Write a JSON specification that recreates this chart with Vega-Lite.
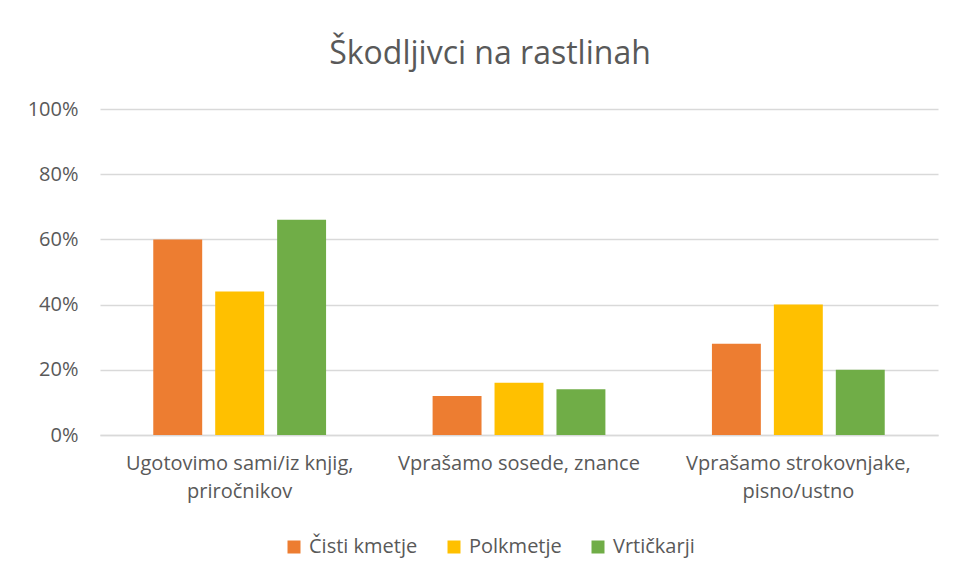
{
  "$schema": "https://vega.github.io/schema/vega-lite/v6.json",
  "autosize": {"type": "none"},
  "width": 838,
  "height": 326,
  "padding": {"left": 100, "top": 109, "right": 19, "bottom": 146},
  "background": "white",
  "title": {
    "text": "Škodljivci na rastlinah",
    "font": "Open Sans",
    "fontSize": 32,
    "fontWeight": "normal",
    "color": "#595959",
    "anchor": "middle",
    "baseline": "alphabetic",
    "offset": 3,
    "dx": -29
  },
  "data": {
    "values": [
      {"kategorija": "Ugotovimo sami/iz knjig, priročnikov", "skupina": "Čisti kmetje", "delez": 0.60},
      {"kategorija": "Ugotovimo sami/iz knjig, priročnikov", "skupina": "Polkmetje", "delez": 0.44},
      {"kategorija": "Ugotovimo sami/iz knjig, priročnikov", "skupina": "Vrtičkarji", "delez": 0.66},
      {"kategorija": "Vprašamo sosede, znance", "skupina": "Čisti kmetje", "delez": 0.12},
      {"kategorija": "Vprašamo sosede, znance", "skupina": "Polkmetje", "delez": 0.16},
      {"kategorija": "Vprašamo sosede, znance", "skupina": "Vrtičkarji", "delez": 0.14},
      {"kategorija": "Vprašamo strokovnjake, pisno/ustno", "skupina": "Čisti kmetje", "delez": 0.28},
      {"kategorija": "Vprašamo strokovnjake, pisno/ustno", "skupina": "Polkmetje", "delez": 0.40},
      {"kategorija": "Vprašamo strokovnjake, pisno/ustno", "skupina": "Vrtičkarji", "delez": 0.20}
    ]
  },
  "mark": {"type": "bar"},
  "encoding": {
    "x": {
      "field": "kategorija",
      "type": "nominal",
      "sort": null,
      "title": null,
      "scale": {"paddingInner": 0, "paddingOuter": 0},
      "axis": {
        "labelAngle": 0,
        "labelFont": "Open Sans",
        "labelFontSize": 20,
        "labelColor": "#595959",
        "labelLineHeight": 28,
        "labelPadding": 18,
        "labelLimit": 0,
        "ticks": false,
        "domainColor": "#d9d9d9",
        "domainWidth": 1.3,
        "labelExpr": "datum.label == 'Ugotovimo sami/iz knjig, priročnikov' ? ['Ugotovimo sami/iz knjig,', 'priročnikov'] : datum.label == 'Vprašamo strokovnjake, pisno/ustno' ? ['Vprašamo strokovnjake,', 'pisno/ustno'] : datum.label"
      }
    },
    "xOffset": {
      "field": "skupina",
      "type": "nominal",
      "sort": ["Čisti kmetje", "Polkmetje", "Vrtičkarji"],
      "scale": {"paddingInner": 0.21, "paddingOuter": 0.86}
    },
    "y": {
      "field": "delez",
      "type": "quantitative",
      "title": null,
      "scale": {"domain": [0, 1]},
      "axis": {
        "values": [0, 0.2, 0.4, 0.6, 0.8, 1],
        "format": ".0%",
        "labelFont": "Open Sans",
        "labelFontSize": 20,
        "labelColor": "#595959",
        "labelPadding": 22,
        "ticks": false,
        "domain": false,
        "gridColor": "#d9d9d9",
        "gridWidth": 1.3
      }
    },
    "color": {
      "field": "skupina",
      "type": "nominal",
      "sort": ["Čisti kmetje", "Polkmetje", "Vrtičkarji"],
      "scale": {"range": ["#ED7D31", "#FFC000", "#70AD47"]},
      "legend": {
        "title": null,
        "orient": "none",
        "direction": "horizontal",
        "legendX": 184,
        "legendY": 428,
        "symbolType": "square",
        "symbolSize": 169,
        "symbolStrokeWidth": 0,
        "labelFont": "Open Sans",
        "labelFontSize": 20,
        "labelColor": "#595959",
        "labelOffset": 5,
        "labelLimit": 0,
        "columnPadding": 26
      }
    }
  },
  "config": {
    "view": {"stroke": null}
  }
}
